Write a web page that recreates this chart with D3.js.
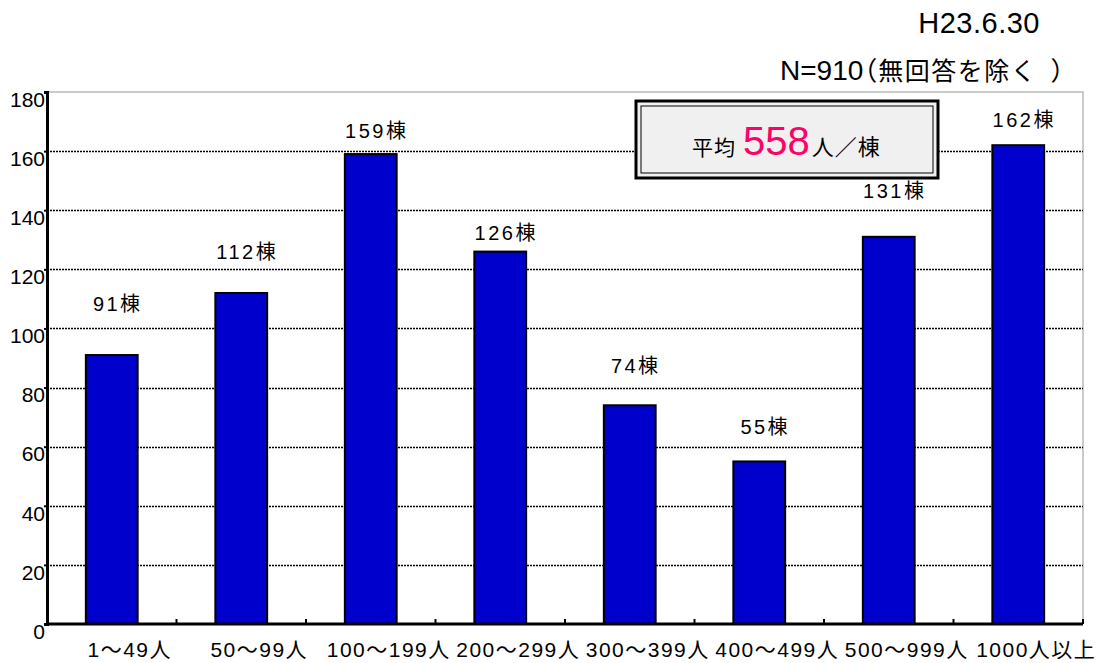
<!DOCTYPE html>
<html>
<head>
<meta charset="utf-8">
<script src="https://cdn.jsdelivr.net/npm/d3@7"></script>
<style>
  body { margin: 0; background: #fff; }
  svg text { font-family: "Liberation Sans", "Noto Sans CJK JP", sans-serif; }
</style>
</head>
<body>
<div id="chart"></div>
<script>
// data
const categories = ['1～49人', '50～99人', '100～199人', '200～299人', '300～399人', '400～499人', '500～999人', '1000人以上'];
const counts = [91, 112, 159, 126, 74, 55, 131, 162];
const labelSuffix = '棟';
const yTicks = [0, 20, 40, 60, 80, 100, 120, 140, 160, 180];
const dateText = 'H23.6.30';
const sampleN = 'N=910';
const sampleNote = '無回答を除く';
const averageValue = 558;

const width = 1102, height = 663;
const margin = {left: 47, right: 19, top: 92, bottom: 39};

const svg = d3.select('#chart').append('svg')
  .attr('width', width)
  .attr('height', height);

const x = d3.scaleBand()
  .domain(categories)
  .range([margin.left, width - margin.right])
  .paddingInner(0.6)
  .paddingOuter(0.3);

const y = d3.scaleLinear()
  .domain([0, 180])
  .range([height - margin.bottom, margin.top]);

// plot frame (top + right are light gray)
svg.append('path')
  .attr('d', `M${margin.left},${y(180)}H${width - margin.right}V${y(0)}`)
  .attr('fill', 'none')
  .attr('stroke', '#bbb')
  .attr('stroke-width', 1.5);

// gridlines
svg.append('g')
  .selectAll('line')
  .data(yTicks.filter(d => d > 0 && d < 180))
  .join('line')
  .attr('x1', margin.left)
  .attr('x2', width - margin.right)
  .attr('y1', d => Math.round(y(d)) + 0.5)
  .attr('y2', d => Math.round(y(d)) + 0.5)
  .attr('stroke', '#000')
  .attr('stroke-width', 1.5)
  .attr('stroke-dasharray', '2,1');

// bars
svg.append('g')
  .selectAll('rect')
  .data(counts)
  .join('rect')
  .attr('x', (d, i) => x(categories[i]))
  .attr('y', d => y(d))
  .attr('width', x.bandwidth())
  .attr('height', d => y(0) - y(d))
  .attr('fill', '#0000cc')
  .attr('stroke', '#000')
  .attr('stroke-width', 2);

// value labels (gap above each bar, px)
const labelGap = [44, 34, 16, 12, 32, 27, 39, 18];
svg.append('g')
  .selectAll('text')
  .data(counts)
  .join('text')
  .attr('x', (d, i) => x(categories[i]) + x.bandwidth() / 2 + 6)
  .attr('y', (d, i) => y(d) - labelGap[i])
  .attr('text-anchor', 'middle')
  .style('font-size', '20px')
  .style('letter-spacing', '2.5px')
  .text(d => d + labelSuffix);

// y axis
const yAxis = svg.append('g')
  .attr('transform', `translate(${margin.left},0)`)
  .call(d3.axisLeft(y).tickValues(yTicks).tickSize(3).tickPadding(-1));
yAxis.select('.domain').attr('stroke-width', 3);
yAxis.selectAll('.tick line').attr('stroke-width', 2);
yAxis.selectAll('.tick text')
  .style('font-size', '21px')
  .attr('fill', '#000')
  .attr('dy', '0.68em');

// x axis
const xStep = x.step();
const xAxis = svg.append('g')
  .attr('transform', `translate(0,${y(0)})`);
xAxis.append('line')
  .attr('x1', margin.left)
  .attr('x2', width - margin.right)
  .attr('stroke', '#000')
  .attr('stroke-width', 3);
xAxis.selectAll('.sep')
  .data(categories)
  .join('line')
  .attr('class', 'sep')
  .attr('x1', d => x(d) + x.bandwidth() / 2 + xStep / 2)
  .attr('x2', d => x(d) + x.bandwidth() / 2 + xStep / 2)
  .attr('y1', 0)
  .attr('y2', -5)
  .attr('stroke', '#000')
  .attr('stroke-width', 2);
xAxis.selectAll('text')
  .data(categories)
  .join('text')
  .attr('x', d => x(d) + x.bandwidth() / 2 + 18)
  .attr('y', 33)
  .attr('text-anchor', 'middle')
  .style('font-size', '21px')
  .style('letter-spacing', '1.5px')
  .text(d => d);

// header text
svg.append('text')
  .attr('x', 1040)
  .attr('y', 33)
  .attr('text-anchor', 'end')
  .style('font-size', '29px')
  .style('letter-spacing', '0.5px')
  .text(dateText);
const nText = svg.append('text')
  .attr('x', 780)
  .attr('y', 80)
  .style('font-size', '28px');
nText.append('tspan').text(sampleN);
nText.append('tspan').style('font-size', '26px').style('font-feature-settings', '"palt"').text('（');
nText.append('tspan').attr('dx', 2).style('font-size', '25px').style('letter-spacing', '1.5px').text(sampleNote);
nText.append('tspan').attr('dx', 14).style('font-size', '26px').style('font-feature-settings', '"palt"').text('）');

// average box
const box = svg.append('g').attr('transform', 'translate(636,101)');
box.append('rect')
  .attr('width', 302).attr('height', 77)
  .attr('fill', '#f0f0f0')
  .attr('stroke', '#000')
  .attr('stroke-width', 3);
box.append('rect')
  .attr('x', 5).attr('y', 5)
  .attr('width', 292).attr('height', 67)
  .attr('fill', 'none')
  .attr('stroke', '#000')
  .attr('stroke-width', 1);
const avgText = box.append('text')
  .attr('x', 56)
  .attr('y', 54);
avgText.append('tspan').style('font-size', '21px').style('letter-spacing', '1px').text('平均');
avgText.append('tspan').attr('dx', 7).style('font-size', '40px').attr('fill', '#ff0066').text(averageValue);
avgText.append('tspan').attr('dx', 2).style('font-size', '22px').style('letter-spacing', '1px').text('人／棟');
</script>
</body>
</html>
